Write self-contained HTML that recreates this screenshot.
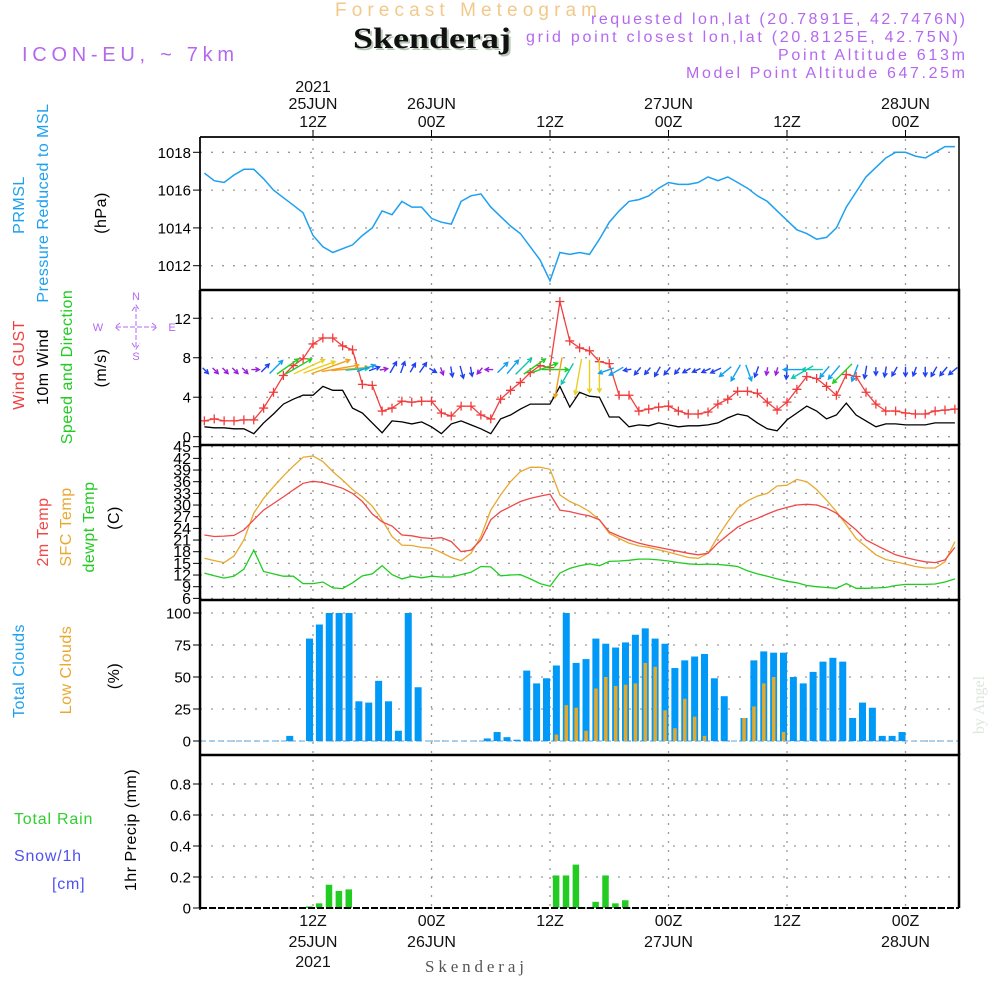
<!DOCTYPE html>
<html><head><meta charset="utf-8"><style>
html,body{margin:0;padding:0;background:#fff;}
svg{display:block;font-family:"Liberation Sans",sans-serif;}
</style></head><body>
<svg id="chart" width="1000" height="1000" viewBox="0 0 1000 1000" xmlns="http://www.w3.org/2000/svg">
<text x="335" y="16" font-size="19" fill="#f2c98a" textLength="262" lengthAdjust="spacing">Forecast Meteogram</text>
<text x="355" y="50" font-size="30" font-weight="bold" font-family="Liberation Serif, serif" fill="#b8c8b8" textLength="158" lengthAdjust="spacingAndGlyphs">Skenderaj</text>
<text x="353" y="48" font-size="30" font-weight="bold" font-family="Liberation Serif, serif" fill="#111" textLength="158" lengthAdjust="spacingAndGlyphs">Skenderaj</text>
<text x="22" y="61" font-size="20" fill="#b468f0" textLength="212" lengthAdjust="spacing">ICON-EU, ~ 7km</text>
<g font-size="16" fill="#b468f0" text-anchor="end">
<text x="965" y="24" textLength="374" lengthAdjust="spacing">requested lon,lat (20.7891E, 42.7476N)</text>
<text x="958" y="42" textLength="432" lengthAdjust="spacing">grid point closest lon,lat (20.8125E, 42.75N)</text>
<text x="965" y="60" textLength="187" lengthAdjust="spacing">Point Altitude 613m</text>
<text x="965" y="78" textLength="279" lengthAdjust="spacing">Model Point Altitude 647.25m</text>
</g>
<g id="plots"></g>
<text x="425" y="972" font-size="17" font-family="Liberation Serif, serif" fill="#555" textLength="99" lengthAdjust="spacing">Skenderaj</text>
<text transform="translate(984,705) rotate(-90)" font-size="16" font-family="Liberation Serif, serif" fill="#dde6dd" text-anchor="middle">by Angel</text>
</svg>
<script>
const hours = [-11,-10,-9,-8,-7,-6,-5,-4,-3,-2,-1,0,1,2,3,4,5,6,7,8,9,10,11,12,13,14,15,16,17,18,19,20,21,22,23,24,25,26,27,28,29,30,31,32,33,34,35,36,37,38,39,40,41,42,43,44,45,46,47,48,49,50,51,52,53,54,55,56,57,58,59,60,61,62,63,64,65];
const timeTicks = [0,12,24,36,48,60];
const topLabels = [["2021","25JUN","12Z"],["","26JUN","00Z"],["","","12Z"],["","27JUN","00Z"],["","","12Z"],["","28JUN","00Z"]];
const pressure = [1016.9,1016.5,1016.4,1016.8,1017.1,1017.1,1016.6,1016.0,1015.6,1015.2,1014.8,
1013.6,1013.0,1012.7,1012.9,1013.1,1013.6,1014.0,1014.9,1014.7,1015.4,1015.1,1015.1,
1014.5,1014.3,1014.2,1015.4,1015.7,1015.8,1015.1,1014.6,1014.1,1013.7,1013.0,1012.3,
1011.2,1012.7,1012.6,1012.7,1012.6,1013.4,1014.3,1014.9,1015.4,1015.5,1015.7,1016.1,
1016.4,1016.3,1016.3,1016.4,1016.7,1016.5,1016.7,1016.4,1016.1,1015.7,1015.4,1014.9,
1014.4,1013.9,1013.7,1013.4,1013.5,1014.0,1015.1,1015.9,1016.7,1017.2,1017.7,1018.0,
1018.0,1017.8,1017.7,1018.0,1018.3,1018.3];
const pressureTicks = [1012,1014,1016,1018];
const gust = [1.6,1.8,1.6,1.6,1.7,1.7,2.9,4.5,6.2,7.2,7.9,
9.4,10,10,9.2,8.8,5.3,5.2,2.6,2.9,3.6,3.5,3.6,
3.6,2.4,2.1,3.1,3.1,2.2,1.8,3.8,4.7,5.5,6.5,7.2,
7.0,13.7,9.7,9.0,8.7,7.6,7.4,4.2,4.2,2.6,2.8,3.0,
3.1,2.6,2.3,2.3,2.5,3.3,3.8,4.6,4.6,4.4,3.5,2.7,
3.5,4.8,6.1,5.9,5.1,4.2,6.3,6.1,4.5,3.3,2.6,2.6,
2.4,2.3,2.3,2.6,2.7,2.8];
const wind10m = [1.0,0.9,0.9,0.8,0.8,0.3,1.4,2.3,3.3,3.8,4.2,
4.2,5.1,4.7,4.7,2.9,2.4,1.4,0.4,1.6,1.5,1.3,1.5,
1.0,0.3,1.3,1.6,1.2,0.8,0.3,1.8,2.2,2.8,3.3,3.3,
3.3,5.1,3.0,4.5,4.1,4.0,2.0,2.0,1.0,1.2,1.1,1.4,
1.2,1.0,1.1,1.1,1.2,1.4,1.9,2.3,2.1,1.4,0.8,0.6,
1.7,2.4,3.1,2.6,1.8,2.2,3.4,2.2,1.6,1.0,1.3,1.3,
1.2,1.2,1.2,1.4,1.4,1.4];
const windDir = [315,315,315,315,315,270,225,225,235,240,245,
250,250,260,265,265,250,250,260,210,200,210,215,
300,340,350,345,350,40,90,225,220,225,235,250,
270,10,30,10,0,0,70,60,80,40,40,30,
40,40,60,65,65,65,50,30,340,20,10,15,
5,90,60,90,40,40,45,20,10,0,10,30,
0,20,0,30,40,50];
const windTicks = [0,4,8,12];
const temp2m = [22.3,21.9,22.0,22.2,23.6,26.2,28.7,30.4,32.1,33.9,35.6,
36.1,35.8,35.1,34.3,33.0,30.9,27.7,25.7,24.6,22.3,22.1,21.6,
21.4,21.6,20.6,18.0,18.4,21.0,26.2,28.3,29.6,30.9,31.7,32.3,
32.8,28.7,28.3,27.7,27.2,26.2,23.1,22.0,21.0,20.2,19.6,19.1,
18.6,18.1,17.6,17.2,17.6,20.2,22.3,24.3,25.6,26.6,27.7,28.7,
29.4,30.0,30.2,30.0,29.2,27.9,25.7,23.6,21.0,19.7,18.4,17.2,
16.5,15.9,15.4,15.2,15.9,19.1];
const tempSfc = [16.3,15.7,15.2,16.9,21.0,27.9,31.7,34.7,37.5,40.0,42.3,
42.6,41.2,38.6,36.4,34.0,32.1,29.7,26.2,21.9,19.7,19.6,19.1,
18.9,17.8,16.5,15.7,17.6,21.9,28.7,32.6,36.0,38.6,39.7,39.7,
39.2,32.6,30.9,29.8,28.3,26.2,22.7,21.4,20.2,19.5,19.1,18.5,
17.9,17.2,16.5,16.3,17.6,21.9,25.7,29.2,31.1,32.3,33.0,34.9,
35.1,36.6,36.0,34.0,31.3,28.3,24.9,21.4,19.3,17.2,16.0,15.4,
14.8,14.2,13.8,13.8,15.4,20.6];
const dewpoint = [12.5,11.8,11.2,11.7,13.5,18.4,12.9,12.3,11.7,11.7,9.8,
9.8,10.2,8.7,8.5,10.0,11.8,12.3,14.4,12.1,11.0,11.7,11.3,
11.7,11.5,11.5,12.1,12.7,14.2,14.1,11.8,12.0,12.1,11.0,9.8,
9.1,12.5,13.7,14.4,14.9,14.4,15.5,15.6,15.8,16.1,16.1,15.9,
15.6,15.2,14.9,14.7,14.8,14.7,14.5,14.2,13.1,12.3,11.7,11.0,
10.4,10.0,9.3,9.0,8.8,8.6,9.8,8.6,8.6,8.7,8.8,9.3,
9.6,9.6,9.6,9.7,10.2,11.0];
const tempTicks = [6,9,12,15,18,21,24,27,30,33,36,39,42,45];
const totalClouds = [0,0,0,0,0,0,0,0,0,4,0,
80,91,100,100,100,31,30,47,31,8,100,42,
0,0,0,0,0,0,2,7,3,1,55,45,
49,59,100,61,64,80,76,73,77,83,88,80,
76,57,63,66,68,49,35,0,18,63,70,69,
69,50,45,54,62,65,62,18,30,26,4,4,
7,0,0,0,0,0];
const lowClouds = [0,0,0,0,0,0,0,0,0,0,0,
0,0,0,0,0,0,0,0,0,0,0,0,
0,0,0,0,0,0,0,0,0,0,0,0,
0,5,28,26,8,41,50,43,44,45,61,58,
24,10,33,19,4,0,0,0,18,27,45,50,
7,0,0,0,0,0,0,0,0,0,0,0,
0,0,0,0,0,0];
const cloudTicks = [0,25,50,75,100];
const precip = [0,0,0,0,0,0,0,0,0,0,0,
0.01,0.03,0.15,0.11,0.12,0,0,0,0,0,0,0,
0,0,0,0,0,0,0,0,0,0,0,0,
0,0.21,0.21,0.28,0,0.04,0.21,0.03,0.05,0,0,0,
0,0,0,0,0,0,0,0,0,0,0,0,
0,0,0,0,0,0,0,0,0,0,0,0,
0,0,0,0,0,0];
const precipTicks = [0,0.2,0.4,0.6,0.8];

const NS = "http://www.w3.org/2000/svg";
const root = document.getElementById('plots');
const X0 = 200, X1 = 959;
const xT = t => 313 + t * 9.875;
const yP = v => 152.3 + (1018 - v) * 18.9;
const yW = v => 436.7 - v * 9.87;
const yT = v => 446.7 + (45 - v) * 3.889;
const yC = v => 741 - v * 1.28;
const yR = v => 908 - v * 155;
const panels = [[137,290],[290,445],[445,600],[600,755],[755,908]];

function mk(tag, attrs, parent) {
  const e = document.createElementNS(NS, tag);
  for (const k in attrs) e.setAttribute(k, attrs[k]);
  (parent || root).appendChild(e);
  return e;
}
function txt(s, attrs) { const e = mk('text', attrs); e.textContent = s; return e; }

const defs = mk('defs', {});
panels.forEach((p, i) => {
  const cp = mk('clipPath', {id: 'clip' + i}, defs);
  mk('rect', {x: X0, y: p[0], width: X1 - X0, height: p[1] - p[0]}, cp);
});

timeTicks.forEach(t => {
  const g = mk('line', {x1: xT(t), x2: xT(t), y1: 130, y2: 912, stroke: '#999', 'stroke-width': 1.3, 'stroke-dasharray': '2,7'});
  
  
});
function hgrid(ticks, yf, name, fmt, fs) {
  ticks.forEach(v => {
    const y = yf(v);
    const l = mk('line', {x1: X0, x2: X1, y1: y, y2: y, stroke: '#999', 'stroke-width': 1.3, 'stroke-dasharray': '2,9'});
    
    
    mk('line', {x1: X0 - 7, x2: X0, y1: y, y2: y, stroke: '#000', 'stroke-width': 1});
    const t = txt(fmt(v), {x: X0 - 9, y: y + 5.5, 'font-size': fs || 15, 'text-anchor': 'end', fill: '#000'});
    
    
  });
}
hgrid(pressureTicks, yP, 'pressure', v => String(v));
hgrid(windTicks, yW, 'wind', v => String(v));
hgrid(tempTicks, yT, 'temp', v => String(v), 16);
hgrid(cloudTicks, yC, 'cloud', v => String(v));
hgrid(precipTicks, yR, 'precip', v => v === 0 ? '0' : v.toFixed(1));

function line(arr, xf, yf, color, clip, name, w) {
  const pts = arr.map((v, i) => xf(hours[i]).toFixed(1) + ',' + yf(v).toFixed(1)).join(' ');
  const p = mk('polyline', {points: pts, fill: 'none', stroke: color, 'stroke-width': w || 1.3, 'clip-path': 'url(#clip' + clip + ')'});
  
  
  return p;
}
line(pressure, xT, yP, '#1ea0f0', 0, 'pressure-line', 1.5);
line(wind10m, xT, yW, '#000', 1, 'wind-10m-line');
line(gust, xT, yW, '#f04040', 1, 'gust-line');
gust.forEach((v, i) => {
  const x = xT(hours[i]), y = yW(v);
  const g = mk('path', {d: `M${x-4.5},${y}H${x+4.5}M${x},${y-4.5}V${y+4.5}`, stroke: '#f03c3c', 'stroke-width': 1.3});
  
  
});
function windColor(s) {
  if (s < 1) return '#9a20e0';
  if (s < 1.8) return '#2040f0';
  if (s < 2.5) return '#10a0f0';
  if (s < 3.2) return '#10c8b0';
  if (s < 4) return '#20d020';
  if (s < 4.6) return '#e8d020';
  return '#f0a020';
}
windDir.forEach((d, i) => {
  const s = wind10m[i];
  const len = Math.max(8, s * 8);
  const a = (270 - d) * Math.PI / 180;
  const dx = Math.cos(a), dy = -Math.sin(a);
  const xc = xT(hours[i]), yc = yW(6.8);
  const x1 = xc - dx * len * 0.3, y1 = yc - dy * len * 0.3;
  const x2 = x1 + dx * len, y2 = y1 + dy * len;
  const h = 4.5, ang = 0.5;
  const hx1 = x2 - h * (dx * Math.cos(ang) - dy * Math.sin(ang)), hy1 = y2 - h * (dy * Math.cos(ang) + dx * Math.sin(ang));
  const hx2 = x2 - h * (dx * Math.cos(ang) + dy * Math.sin(ang)), hy2 = y2 - h * (dy * Math.cos(ang) - dx * Math.sin(ang));
  const ar = mk('path', {d: `M${x1},${y1}L${x2},${y2}M${hx1},${hy1}L${x2},${y2}L${hx2},${hy2}`, stroke: windColor(s), 'stroke-width': 1.4, fill: 'none', 'clip-path': 'url(#clip1)'});
  
  
});
line(tempSfc, xT, yT, '#e8a830', 2, 'sfc-temp-line');
line(temp2m, xT, yT, '#f04848', 2, '2m-temp-line');
line(dewpoint, xT, yT, '#20cc20', 2, 'dewpoint-line');
mk('line', {x1: X0, x2: X1, y1: yC(0), y2: yC(0), stroke: '#7ab8e8', 'stroke-width': 1.2, 'stroke-dasharray': '6,3'});
totalClouds.forEach((v, i) => {
  if (v <= 0) return;
  const x = xT(hours[i]);
  const r = mk('rect', {x: x - 7, y: yC(v), width: 7, height: yC(0) - yC(v), fill: '#0099f8'});
  
  
});
lowClouds.forEach((v, i) => {
  if (v <= 0) return;
  const x = xT(hours[i]);
  const r = mk('rect', {x: x - 5.2, y: yC(v), width: 3.5, height: yC(0) - yC(v), fill: '#e6a828'});
  
  
});
precip.forEach((v, i) => {
  if (v <= 0) return;
  const x = xT(hours[i]);
  const r = mk('rect', {x: x - 7, y: yR(v), width: 6.5, height: yR(0) - yR(v), fill: '#22cc22'});
  
  
});
mk('line', {x1: X0, x2: X1, y1: 908, y2: 908, stroke: '#000', 'stroke-width': 2, 'stroke-dasharray': '7,2'});

panels.forEach((p, i) => {
  const f = mk('path', {d: `M${X0},${p[0]}H${X1}V${p[1]}M${X0},${p[0]}V${p[1]}`, stroke: '#000', 'stroke-width': i === 0 ? 1.5 : 2.5, fill: 'none'});
  
  
});
mk('line', {x1: X0, x2: X1, y1: 137, y2: 137, stroke: '#000', 'stroke-width': 1.5});
mk('line', {x1: X0, x2: X0, y1: 137, y2: 910, stroke: '#000', 'stroke-width': 1.5});

timeTicks.forEach((t, i) => {
  const x = xT(t);
  mk('line', {x1: x, x2: x, y1: 130, y2: 137, stroke: '#000'});
  const lb = topLabels[i];
  [[lb[0], 92], [lb[1], 109], [lb[2], 127]].forEach(([s, y]) => {
    if (!s) return;
    const e = txt(s, {x: x, y: y, 'font-size': 16, 'text-anchor': 'middle', fill: '#111'});
    
    
  });
  [[lb[2], 926], [lb[1], 947], [lb[0], 967]].forEach(([s, y]) => {
    if (!s) return;
    const e = txt(s, {x: x, y: y, 'font-size': 16, 'text-anchor': 'middle', fill: '#111'});
    
    
  });
});

function vt(s, x, y, color, name, fs) {
  const e = txt(s, {transform: `translate(${x},${y}) rotate(-90)`, 'font-size': fs || 16, 'text-anchor': 'middle', fill: color, 'letter-spacing': '0.5'});
  
  
}
vt('PRMSL', 24, 205, '#1ea0f0', 'prmsl-label');
vt('Pressure Reduced to MSL', 48, 203, '#1ea0f0', 'pressure-label');
vt('(hPa)', 106, 213, '#000', 'pressure-unit');
vt('Wind GUST', 24, 365, '#f04040', 'gust-label');
vt('10m Wind', 48, 367, '#000', 'wind10m-label');
vt('Speed and Direction', 72, 367, '#20cc20', 'wind-speed-label');
vt('(m/s)', 106, 368, '#000', 'wind-unit');
vt('2m Temp', 48, 532, '#f04848', 'temp2m-label');
vt('SFC Temp', 71, 527, '#e8a830', 'sfc-temp-label');
vt('dewpt Temp', 94, 527, '#20cc20', 'dewpoint-label');
vt('(C)', 119, 518, '#000', 'temp-unit');
vt('Total Clouds', 24, 671, '#1ea0f0', 'total-clouds-label');
vt('Low Clouds', 71, 670, '#e8a830', 'low-clouds-label');
vt('(%)', 119, 676, '#000', 'cloud-unit');
vt('1hr Precip (mm)', 136, 830, '#000', 'precip-unit');
const tr = txt('Total  Rain', {x: 14, y: 824, 'font-size': 16, fill: '#30d030', 'letter-spacing': '0.8'});
 
const sn = txt('Snow/1h', {x: 14, y: 861, 'font-size': 16, fill: '#5050f0', 'letter-spacing': '0.8'});
 
const cm = txt('[cm]', {x: 52, y: 889, 'font-size': 16, fill: '#5050f0', 'letter-spacing': '0.8'});
 

const cg = mk('g', {fill: '#b468f0', stroke: 'none', 'font-size': 11, 'text-anchor': 'middle'});


[['N',136,300],['S',136,360],['W',98,331],['E',172,331]].forEach(([s,x,y]) => { const e = txt(s, {x:x, y:y, 'font-size':11, 'text-anchor':'middle', fill:'#b468f0'}); cg.appendChild(e); });
mk('path', {d: 'M116,327H156M136,307V347M120,323L115,327L120,331M152,323L157,327L152,331M132,311L136,305L140,311M132,343L136,349L140,343', stroke: '#b468f0', 'stroke-width': 1, fill: 'none', 'stroke-dasharray': '5,2'}, cg);
</script>
</body></html>
